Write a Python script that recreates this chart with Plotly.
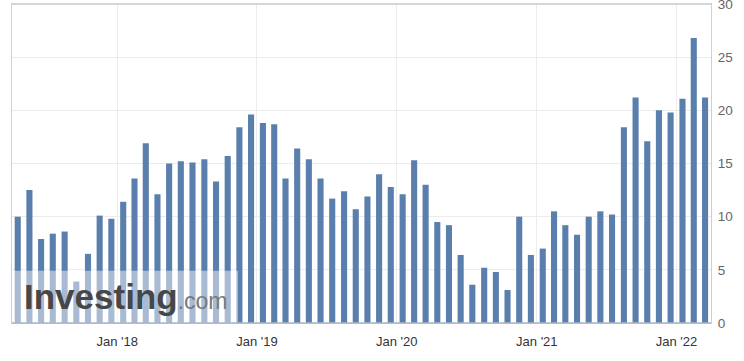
import plotly.graph_objects as go
import pandas as pd

months = pd.date_range("2017-04-01", "2022-03-01", freq="MS").strftime("%Y-%m-%d").tolist()
values = [10.0, 12.5, 7.9, 8.4, 8.6, 3.9, 6.5, 10.1, 9.8, 11.4,
          13.6, 16.9, 12.1, 15.0, 15.2, 15.1, 15.4, 13.3, 15.7, 18.4,
          19.6, 18.8, 18.7, 13.6, 16.4, 15.4, 13.6, 11.7, 12.4, 10.7,
          11.9, 14.0, 12.8, 12.1, 15.3, 13.0, 9.5, 9.2, 6.4, 3.6,
          5.2, 4.8, 3.1, 10.0, 6.4, 7.0, 10.5, 9.2, 8.3, 10.0,
          10.5, 10.2, 18.4, 21.2, 17.1, 20.0, 19.8, 21.1, 26.8, 21.2]
y_ticks = [0, 5, 10, 15, 20, 25, 30]

fig = go.Figure()
fig.add_trace(go.Bar(
    x=months, y=values, xperiod="M1", xperiodalignment="middle",
    marker=dict(color="#5b7fad", line=dict(width=0)),
    hoverinfo="x+y",
))

fig.update_layout(
    width=744, height=361,
    margin=dict(l=12, r=33, t=4, b=38, autoexpand=False),
    paper_bgcolor="white", plot_bgcolor="white",
    bargap=0.46, showlegend=False,
    font=dict(family="Liberation Sans, Arial, sans-serif", color="#333"),
    xaxis=dict(
        type="date", range=["2017-04-01", "2022-04-01"], automargin=False,
        tick0="2018-01-01", dtick="M12", tickformat="%b '%y",
        showgrid=True, gridcolor="#ececec", gridwidth=1,
        showline=True, linecolor="#cfcfcf", linewidth=1, mirror=True,
        ticks="outside", ticklen=6, tickcolor="white",
        tickfont=dict(size=13, color="#333"), zeroline=False,
    ),
    yaxis=dict(
        side="right", range=[0, 30], tickvals=y_ticks, automargin=False,
        ticklabeloverflow="allow",
        showgrid=True, gridcolor="#ececec", gridwidth=1,
        showline=True, linecolor="#cfcfcf", linewidth=1, mirror=True,
        ticks="outside", ticklen=3, tickcolor="white",
        tickfont=dict(size=13.5, color="#666"), zeroline=False,
    ),
    shapes=[
        dict(type="rect", xref="paper", yref="paper", x0=0, x1=0.3233, y0=0, y1=0.164,
             fillcolor="white", opacity=0.47, line=dict(width=0), layer="above"),
        dict(type="line", xref="paper", yref="paper", x0=0, x1=1, y0=0, y1=0,
             line=dict(color="#a9b6c8", width=1.5), layer="above"),
        dict(type="line", xref="paper", yref="paper", x0=0, x1=1, y0=1, y1=1,
             line=dict(color="#d6d6d6", width=2), layer="above"),
    ],
    annotations=[
        dict(xref="paper", yref="paper", x=0.0143, y=0.082, xanchor="left", yanchor="middle",
             showarrow=False,
             text="<b>Investing</b><span style='font-size:23px;color:#7a7a7a'>.com</span>",
             font=dict(family="Liberation Sans, Arial, sans-serif", size=35, color="#474747")),
    ],
)

fig.write_html("out.html", config={"displayModeBar": False},
               post_script="document.body.style.margin='0';document.body.style.overflow='hidden';")
